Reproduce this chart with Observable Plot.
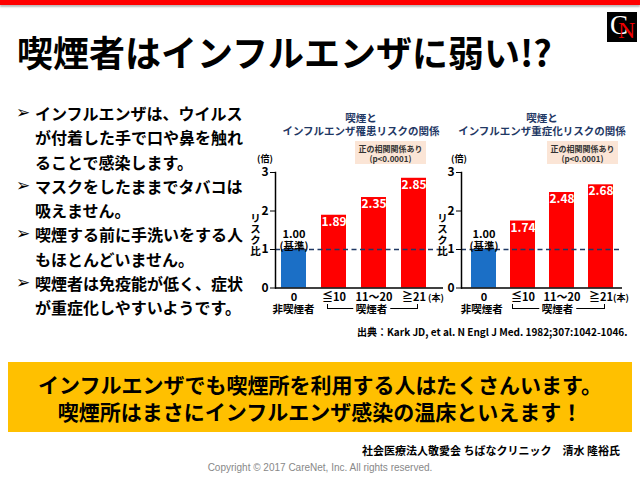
<!DOCTYPE html>
<html><head><meta charset="utf-8">
<script src="https://cdn.jsdelivr.net/npm/d3@7"></script>
<script src="https://cdn.jsdelivr.net/npm/@observablehq/plot@0.6"></script>
<style>
body{margin:0;background:#fff;}
#page{position:relative;width:640px;height:480px;overflow:hidden;font-family:"Noto Sans CJK JP","DejaVu Sans",sans-serif;color:#000;}
.abs{position:absolute;white-space:nowrap;}
#topbar{left:0;top:0;width:640px;height:5px;background:#ff0000;box-shadow:0 2px 2px #bbb;}
#logo{left:607px;top:12px;width:30px;height:30px;background:#000;font-family:"Liberation Serif",serif;}
#title{left:17px;top:25px;font-size:36px;font-weight:700;letter-spacing:0px;}
#bullets{left:14px;top:101px;font-size:16px;font-weight:700;line-height:24.3px;}
.bl{position:relative;padding-left:21px;margin-bottom:0px;}
.bl .m{position:absolute;left:2px;top:-1px;font-family:"DejaVu Sans";font-size:17px;}
.ct{font-size:10.5px;font-weight:700;color:#1f3864;text-align:center;line-height:12.5px;transform:translateX(-50%);}
.note{background:#fbe5d6;font-size:8px;font-weight:700;color:#333;text-align:center;line-height:9.5px;padding-top:3px;box-sizing:border-box;}
.side{font-size:10.5px;font-weight:700;line-height:12px;writing-mode:vertical-rl;text-orientation:upright;letter-spacing:0.5px;transform:translateX(-50%);}
.unit{font-size:9px;font-weight:700;transform:translateX(-50%);}
.brk{border:1px solid #000;border-top:none;height:4px;}
.brkt{font-size:10.5px;font-weight:700;background:#fff;padding:0 3px;transform:translate(-50%,-50%);line-height:12px;}
#yellow{left:8px;top:362px;width:624px;height:70px;background:#ffc000;}
.yl{font-size:21px;font-weight:700;text-align:center;width:640px;left:0;transform:translateY(-50%);}
</style></head><body><div id="page">
<div id="topbar" class="abs"></div>
<div id="logo" class="abs"><span style="position:absolute;left:3px;top:-2px;font-size:27px;color:#fff;">C</span><span style="position:absolute;left:11px;top:5px;font-size:24px;color:#e00;">N</span></div>
<div id="title" class="abs">喫煙者はインフルエンザに弱い!?</div>
<div id="bullets" class="abs"></div>
<div id="chart1" class="abs" style="left:245px;top:155px;"></div>
<div id="chart2" class="abs" style="left:431px;top:155px;"></div>
<div id="deco"></div>
<div id="source" class="abs" style="left:357px;top:324px;font-size:10px;font-weight:700;">出典：Kark JD, et al. N Engl J Med. 1982;307:1042-1046.</div>
<div id="yellow" class="abs"></div>
<div id="msg"></div>
<div class="abs" style="right:20px;top:442px;font-size:11px;font-weight:700;">社会医療法人敬愛会 ちばなクリニック　清水 隆裕氏</div>
<div class="abs" style="left:0;width:640px;text-align:center;top:462px;font-size:10px;color:#888;font-family:'Liberation Sans','DejaVu Sans',sans-serif;">Copyright © 2017 CareNet, Inc. All rights reserved.</div>
</div>
<script>
// ---- data ----
const categories = ["0", "≦10", "11～20", "≧21"];
const groups = ["非喫煙者", "喫煙者", "喫煙者", "喫煙者"];
const infectionRisk = [1.00, 1.89, 2.35, 2.85];
const severeRisk = [1.00, 1.74, 2.48, 2.68];
const yTicks = [0, 1, 2, 3];
const baselineNote = "(基準)";
const chartTitles = [["喫煙と", "インフルエンザ罹患リスクの関係"], ["喫煙と", "インフルエンザ重症化リスクの関係"]];
const noteLines = ["正の相関関係あり", "(p<0.0001)"];
const yLabel = "リスク比";
const yUnit = "(倍)";
const xUnit = "(本)";
const bulletItems = [
  ["インフルエンザは、ウイルス", "が付着した手で口や鼻を触れ", "ることで感染します。"],
  ["マスクをしたままでタバコは", "吸えません。"],
  ["喫煙する前に手洗いをする人", "もほとんどいません。"],
  ["喫煙者は免疫能が低く、症状", "が重症化しやすいようです。"]
];
const messageLines = ["インフルエンザでも喫煙所を利用する人はたくさんいます。", "喫煙所はまさにインフルエンザ感染の温床といえます！"];

const BLUE = "#1b6fc6", RED = "#ff0000", NAVY = "#1f3864";
const FONT = "'Noto Sans CJK JP', 'DejaVu Sans', sans-serif";

// bullets
const bl = document.getElementById("bullets");
bulletItems.forEach(lines => {
  const d = document.createElement("div");
  d.className = "bl";
  d.innerHTML = `<span class="m">➢</span>` + lines.join("<br>");
  bl.appendChild(d);
});

// message
const msg = document.getElementById("msg");
messageLines.forEach((t, i) => {
  const d = document.createElement("div");
  d.className = "abs yl";
  d.style.top = (384 + i * 27) + "px";
  d.textContent = t;
  msg.appendChild(d);
});

function makeChart(values, xOpts, w, mr) {
  const data = categories.map((c, i) => ({cat: c, group: groups[i], v: values[i]}));
  const base = data.filter(d => d.group === "非喫煙者");
  return Plot.plot({
    width: w, height: 165,
    marginLeft: 30, marginRight: mr, marginTop: 17, marginBottom: 32.5,
    x: {domain: categories, ...xOpts, axis: null},
    y: {domain: [0, 3], axis: null},
    color: {domain: ["非喫煙者", "喫煙者"], range: [BLUE, RED]},
    style: {fontFamily: FONT, fontWeight: "bold", color: "#000", background: "transparent", overflow: "visible"},
    marks: [
      Plot.barY(data, {x: "cat", y: "v", fill: "group"}),
      Plot.ruleY([1], {stroke: NAVY, strokeWidth: 1.5, strokeDasharray: "5,3.5"}),
      Plot.ruleY([0], {stroke: "#000", strokeWidth: 1.5}),
      Plot.frame({anchor: "left", stroke: "#000", strokeWidth: 1.5}),
      Plot.axisY({ticks: yTicks, tickFormat: d3.format("d"), tickSize: 5, tickPadding: 2, fontSize: 12, fontWeight: "bold", label: null, stroke: "#000"}),
      Plot.axisX({tickSize: 0, tickPadding: 5, fontSize: 11, fontWeight: "bold", label: null, lineHeight: 1.0}),
      Plot.text(data.filter(d => d.group === "喫煙者"), {x: "cat", y: "v", text: d => d.v.toFixed(2), dy: 2, lineAnchor: "top", fill: "#fff", fontSize: 12, fontWeight: "bold"}),
      Plot.text(base, {x: "cat", y: "v", text: () => baselineNote, dy: 0, lineAnchor: "bottom", fill: "#000", fontSize: 10.5, fontWeight: "bold"}),
      Plot.text(base, {x: "cat", y: "v", text: d => d.v.toFixed(2), dy: -12, lineAnchor: "bottom", fill: "#000", fontSize: 11, fontWeight: "bold"})
    ]
  });
}

document.getElementById("chart1").appendChild(makeChart(infectionRisk, {paddingInner: 0.37, paddingOuter: 0.264, align: 0.27}, 210, 12));
document.getElementById("chart2").appendChild(makeChart(severeRisk, {paddingInner: 0.367, paddingOuter: 0.206, align: 0.5}, 200, 9));

// decorations per chart
const deco = document.getElementById("deco");
function add(html) { deco.insertAdjacentHTML("beforeend", html); }
const chartDeco = [
  {tc: 361, box: 355, side: 255, yu: 265, xu: 436, b1: 327, b2: 416, nonX: 293.5},
  {tc: 542, box: 547, side: 442, yu: 459, xu: 621, b1: 512, b2: 603, nonX: 481.7}
];
chartDeco.forEach((c, i) => {
  add(`<div class="abs ct" style="left:${c.tc}px;top:112px;">${chartTitles[i].join("<br>")}</div>`);
  add(`<div class="abs note" style="left:${c.box}px;top:141px;width:71px;height:23px;">${noteLines.join("<br>")}</div>`);
  add(`<div class="abs unit" style="left:${c.yu}px;top:152px;">${yUnit}</div>`);
  add(`<div class="abs side" style="left:${c.side}px;top:213px;">${yLabel}</div>`);
  add(`<div class="abs unit" style="left:${c.xu}px;top:291px;">${xUnit}</div>`);
  add(`<div class="abs brk" style="left:${c.b1}px;top:304px;width:${c.b2 - c.b1}px;"></div>`);
  add(`<div class="abs brkt" style="left:${(c.b1 + c.b2) / 2}px;top:309px;">${groups[1]}</div>`);
  add(`<div class="abs brkt" style="left:${c.nonX}px;top:309px;padding:0;">${groups[0]}</div>`);
});
</script>
</body></html>
